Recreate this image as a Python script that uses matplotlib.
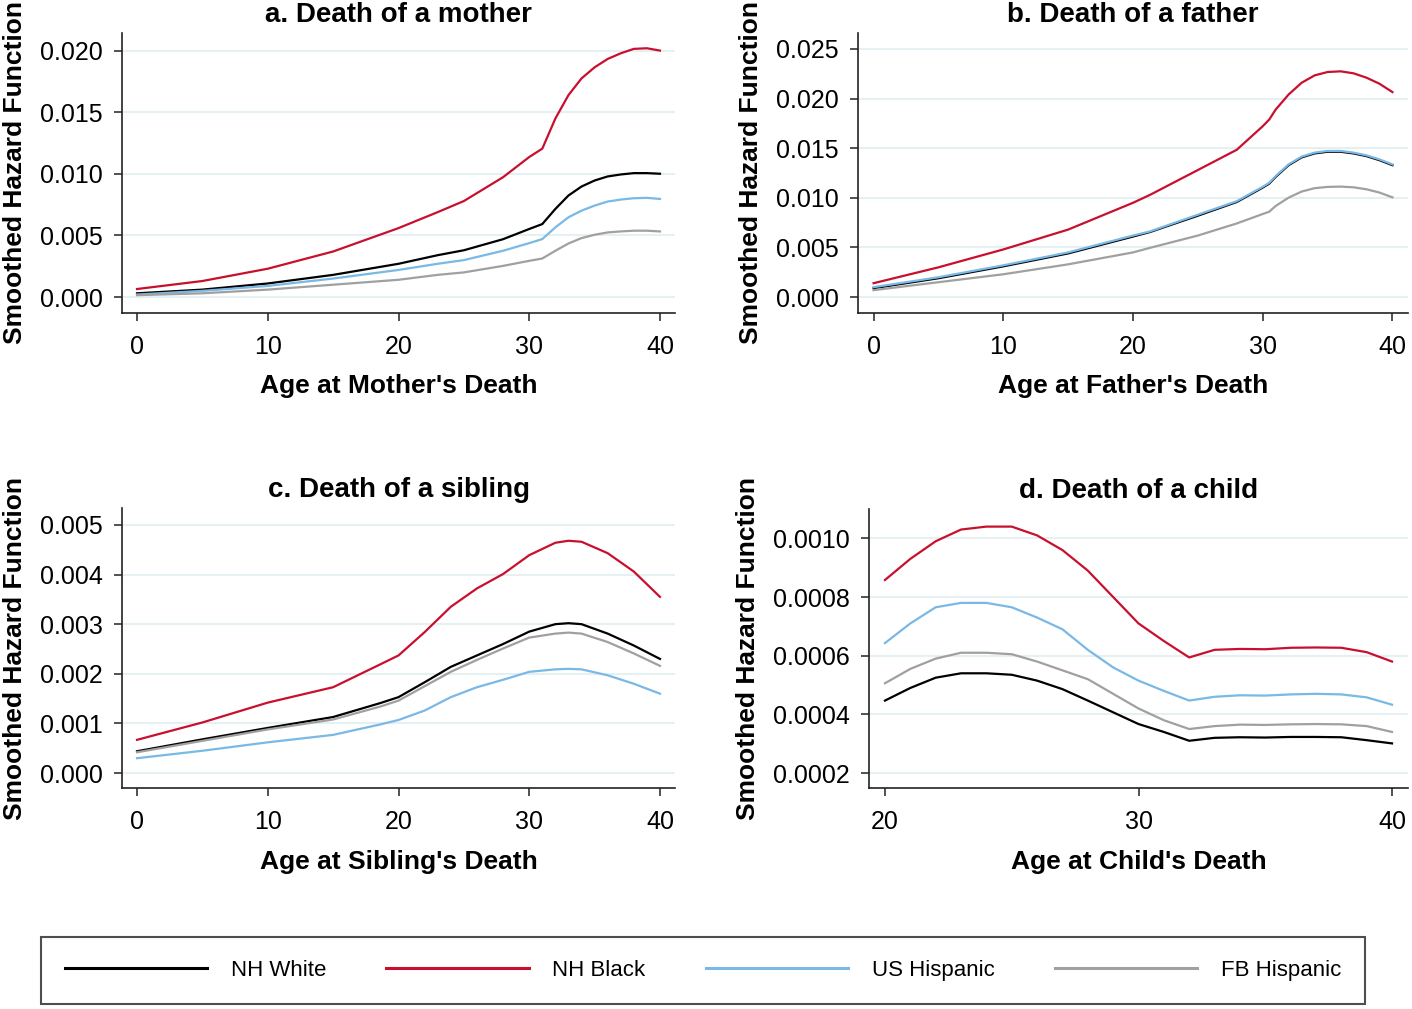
import numpy as np
import matplotlib
matplotlib.use("Agg")
import matplotlib.pyplot as plt

plt.rcParams['font.family'] = ['Liberation Sans', 'DejaVu Sans']

groups = ["NH White", "NH Black", "US Hispanic", "FB Hispanic"]
colors = ["#000000", "#c8102e", "#7ab8e6", "#a0a0a0"]

# panel a: death of a mother
age_a = [0, 5, 10, 15, 20, 23, 25, 28, 30, 31, 32, 33, 34, 35, 36, 37, 38, 39, 40]
mother = {
    "NH White":    [0.0003, 0.0006, 0.0011, 0.0018, 0.0027, 0.0034, 0.0038, 0.0047, 0.00553, 0.00593, 0.00716, 0.00825, 0.00898, 0.00947, 0.0098, 0.00996, 0.01007, 0.01007, 0.01002],
    "NH Black":    [0.00065, 0.0013, 0.0023, 0.0037, 0.0056, 0.0069, 0.0078, 0.00974, 0.01138, 0.01206, 0.01451, 0.01641, 0.01777, 0.01867, 0.01935, 0.01981, 0.02017, 0.02022, 0.02003],
    "US Hispanic": [0.0002, 0.0005, 0.0009, 0.0015, 0.0022, 0.0027, 0.0030, 0.00376, 0.00438, 0.00471, 0.00566, 0.00648, 0.00702, 0.00743, 0.00776, 0.00792, 0.00803, 0.00806, 0.00797],
    "FB Hispanic": [0.00015, 0.0003, 0.0006, 0.0010, 0.0014, 0.0018, 0.0020, 0.00253, 0.00294, 0.00313, 0.00376, 0.00435, 0.00479, 0.00506, 0.00525, 0.00533, 0.00539, 0.00539, 0.00533],
}

# panel b: death of a father
age_b = [0, 5, 10, 15, 20, 21.3, 25, 28, 30, 30.5, 31, 32, 33, 34, 35, 36, 37, 38, 39, 40]
father = {
    "NH White":    [0.0009, 0.0019, 0.0031, 0.0044, 0.0061, 0.00655, 0.0082, 0.00958, 0.01103, 0.01143, 0.01211, 0.01329, 0.01407, 0.01447, 0.01464, 0.01464, 0.01447, 0.0142, 0.01379, 0.01329],
    "NH Black":    [0.0014, 0.0030, 0.0048, 0.0068, 0.0095, 0.01029, 0.0128, 0.01484, 0.01721, 0.01788, 0.01889, 0.02041, 0.02159, 0.02233, 0.02267, 0.02274, 0.02254, 0.0221, 0.02149, 0.02065],
    "US Hispanic": [0.0010, 0.0020, 0.0032, 0.0045, 0.0062, 0.00661, 0.0083, 0.00966, 0.01111, 0.01151, 0.01219, 0.01337, 0.01415, 0.01455, 0.01472, 0.01472, 0.01455, 0.01428, 0.01387, 0.01337],
    "FB Hispanic": [0.0007, 0.0015, 0.0023, 0.0033, 0.0045, 0.00496, 0.0062, 0.00742, 0.00837, 0.0086, 0.00918, 0.01002, 0.01063, 0.01097, 0.0111, 0.01113, 0.01106, 0.01086, 0.01053, 0.01005],
}

# panel c: death of a sibling
age_c = [0, 5, 10, 15, 18.6, 20, 22, 24, 26, 28, 30, 32, 33, 34, 36, 38, 40]
sibling = {
    "NH White":    [0.00044, 0.00068, 0.00091, 0.00113, 0.00141, 0.00153, 0.00183, 0.00214, 0.00237, 0.00260, 0.00285, 0.00300, 0.00302, 0.00300, 0.00281, 0.00257, 0.00230],
    "NH Black":    [0.00067, 0.00102, 0.00142, 0.00173, 0.00219, 0.00237, 0.00284, 0.00335, 0.00372, 0.00401, 0.00439, 0.00464, 0.00468, 0.00466, 0.00443, 0.00406, 0.00355],
    "US Hispanic": [0.00030, 0.00045, 0.00062, 0.00077, 0.00098, 0.00107, 0.00126, 0.00153, 0.00173, 0.00188, 0.00204, 0.00209, 0.00210, 0.00209, 0.00197, 0.00180, 0.00160],
    "FB Hispanic": [0.00042, 0.00065, 0.00088, 0.00108, 0.00134, 0.00146, 0.00175, 0.00204, 0.00228, 0.00251, 0.00273, 0.00281, 0.00283, 0.00281, 0.00264, 0.00241, 0.00216],
}

# panel d: death of a child
age_d = list(range(20, 41))
child = {
    "NH White":    [0.000447, 0.000490, 0.000525, 0.000540, 0.000540, 0.000535, 0.000515, 0.000486, 0.000447, 0.000407, 0.000367, 0.000340, 0.000310, 0.000320, 0.000322, 0.000321, 0.000323, 0.000323, 0.000322, 0.000312, 0.000301],
    "NH Black":    [0.000858, 0.000930, 0.000990, 0.001030, 0.001040, 0.001040, 0.001010, 0.000960, 0.000890, 0.000800, 0.000710, 0.000650, 0.000594, 0.000620, 0.000623, 0.000622, 0.000627, 0.000628, 0.000627, 0.000612, 0.000580],
    "US Hispanic": [0.000643, 0.000710, 0.000765, 0.000780, 0.000780, 0.000765, 0.000730, 0.000690, 0.000620, 0.000560, 0.000515, 0.000480, 0.000447, 0.000460, 0.000465, 0.000464, 0.000468, 0.000470, 0.000468, 0.000458, 0.000433],
    "FB Hispanic": [0.000506, 0.000555, 0.000590, 0.000610, 0.000610, 0.000605, 0.000580, 0.000550, 0.000520, 0.000470, 0.000420, 0.000380, 0.000350, 0.000360, 0.000365, 0.000364, 0.000366, 0.000367, 0.000366, 0.000360, 0.000340],
}

panels = [
    ("a. Death of a mother", "Age at Mother's Death", age_a, mother,
     [0, 10, 20, 30, 40], (-1.15, 41.15), [0, 0.005, 0.010, 0.015, 0.020], (-0.0013, 0.02146), "%.3f"),
    ("b. Death of a father", "Age at Father's Death", age_b, father,
     [0, 10, 20, 30, 40], (-1.2, 41.2), [0, 0.005, 0.010, 0.015, 0.020, 0.025], (-0.0016, 0.0266), "%.3f"),
    ("c. Death of a sibling", "Age at Sibling's Death", age_c, sibling,
     [0, 10, 20, 30, 40], (-1.15, 41.15), [0, 0.001, 0.002, 0.003, 0.004, 0.005], (-0.0003, 0.00534), "%.3f"),
    ("d. Death of a child", "Age at Child's Death", age_d, child,
     [20, 30, 40], (19.37, 40.63), [0.0002, 0.0004, 0.0006, 0.0008, 0.0010], (0.000149, 0.0011), "%.4f"),
]

W, H = 1412, 1009
fig = plt.figure(figsize=(W / 100, H / 100), dpi=100)

# axes boxes in pixels: left, top, right, bottom
boxes = [
    (122, 33, 675, 313),
    (858, 33, 1408, 313),
    (122, 508, 675, 788),
    (869, 509, 1408, 788),
]

for (title, xlabel, ages, data, xt, xl, yt, yl, fmt), (x0, y0, x1, y1) in zip(panels, boxes):
    ax = fig.add_axes([x0 / W, 1 - y1 / H, (x1 - x0) / W, (y1 - y0) / H])
    for g, c in zip(groups, colors):
        ax.plot(ages, data[g], color=c, lw=1.6, label=g)
    ax.set_xlim(*xl)
    ax.set_ylim(*yl)
    ax.set_xticks(xt)
    ax.set_yticks(yt)
    ax.set_yticklabels([fmt % v for v in yt])
    ax.grid(axis="y", color="#e6eff1", lw=1.5)
    ax.set_axisbelow(True)
    for s in ["top", "right"]:
        ax.spines[s].set_visible(False)
    for s in ["left", "bottom"]:
        ax.spines[s].set_color("#222222")
        ax.spines[s].set_linewidth(1.2)
    ax.tick_params(direction="out", length=6, width=1.1, color="#222222",
                   labelsize=18, pad=8)
    ax.tick_params(axis="x", pad=10)
    ax.set_title(title, fontsize=20, fontweight="bold", pad=8)
    ax.set_xlabel(xlabel, fontsize=19, fontweight="bold", labelpad=11)
    ax.set_ylabel("Smoothed Hazard Function", fontsize=19, fontweight="bold", labelpad=9)

handles = [plt.Line2D([], [], color=c, lw=2.2) for c in colors]
leg = fig.legend(handles, groups, loc="center", bbox_to_anchor=(703 / W, 1 - 970.5 / H),
                 ncol=4, frameon=True, fancybox=False, fontsize=16,
                 handlelength=6.4, handletextpad=1.08, columnspacing=2.7,
                 borderpad=1.05, borderaxespad=0)
leg.get_frame().set_edgecolor("#222222")
leg.get_frame().set_linewidth(1.5)

fig.savefig("out.png", dpi=100)
